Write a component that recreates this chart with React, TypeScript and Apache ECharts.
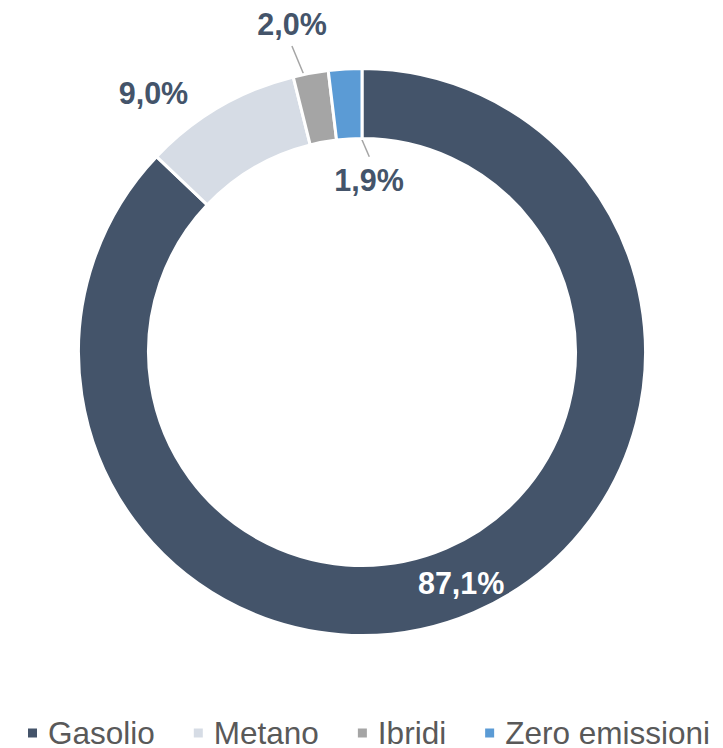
import React, { useEffect, useRef } from "react";
import * as echarts from "echarts";

const categories = ["Gasolio", "Metano", "Ibridi", "Zero emissioni"];
const shares = [87.1, 9.0, 2.0, 1.9];
const labelTexts = ["87,1%", "9,0%", "2,0%", "1,9%"];
const colors = ["#44546A", "#D6DCE5", "#A5A5A5", "#5B9BD5"];

// label placement: polar offsets relative to slice mid-angle (null = default inside)
const labelPlacement: any[] = [
  null,
  { r: 332.5, da: 8.6, line: null },
  { r: 335.4, da: 1.6, line: [[313.9, 2.46], [283, 1.39]] },
  { r: 172.1, da: -5.75, line: [[247.5, 0.06], [195.4, -5.56]] },
];

const CX = 362;
const CY = 352;

export default function App() {
  const ref = useRef<HTMLDivElement>(null);
  useEffect(() => {
    if (!ref.current) return;
    const chart = echarts.init(ref.current, null, { renderer: "svg" });
    const total = shares.reduce((a, b) => a + b, 0);
    const midAngles = shares.map((v, i) => {
      const cum = shares.slice(0, i).reduce((a, b) => a + b, 0);
      return 90 - (360 * (cum + v / 2)) / total;
    });
    const pt = (r: number, deg: number) => {
      const rad = (deg * Math.PI) / 180;
      return [CX + r * Math.cos(rad), CY - r * Math.sin(rad)];
    };
    const font = "'Liberation Sans', Arial, sans-serif";
    chart.setOption({
      animation: false,
      backgroundColor: "#ffffff",
      legend: {
        left: 21,
        top: 712,
        icon: "rect",
        itemWidth: 11,
        itemHeight: 11,
        itemGap: 37,
        selectedMode: false,
        textStyle: {
          color: "#595959",
          fontSize: 31.5,
          fontFamily: font,
          padding: [0, 0, 0, 5],
        },
        data: categories,
      },
      series: [
        {
          type: "pie",
          center: [CX, CY],
          radius: [213.5, 283.5],
          startAngle: 90,
          clockwise: true,
          avoidLabelOverlap: false,
          silent: true,
          itemStyle: { borderColor: "#ffffff", borderWidth: 3 },
          label: {
            show: true,
            formatter: (p: any) => labelTexts[p.dataIndex],
            fontSize: 30.5,
            fontWeight: "bold",
            fontFamily: font,
            color: "#44546A",
          },
          labelLine: {
            show: true,
            lineStyle: { color: "#A5A5A5", width: 1.5 },
          },
          labelLayout: (params: any) => {
            const pl = labelPlacement[params.dataIndex];
            if (!pl) return {};
            const m = midAngles[params.dataIndex];
            const [x, y] = pt(pl.r, m + pl.da);
            const out: any = { x, y, align: "center", verticalAlign: "middle" };
            if (pl.line) {
              out.labelLinePoints = pl.line.map((q: number[]) => pt(q[0], m + q[1]));
            }
            return out;
          },
          data: categories.map((name, i) => {
            const item: any = {
              name,
              value: shares[i],
              itemStyle: { color: colors[i] },
            };
            if (i === 0) {
              item.label = { position: "inside", color: "#ffffff" };
              item.labelLine = { show: false };
            } else if (i === 1) {
              item.label = { position: "outside" };
              item.labelLine = { show: false };
            } else {
              item.label = { position: "outside" };
              item.labelLine = { show: true };
            }
            return item;
          }),
        },
      ],
    });
    return () => chart.dispose();
  }, []);
  return (
    <div
      ref={ref}
      style={{ position: "absolute", left: 0, top: 0, width: 723, height: 748, background: "#fff" }}
    />
  );
}
